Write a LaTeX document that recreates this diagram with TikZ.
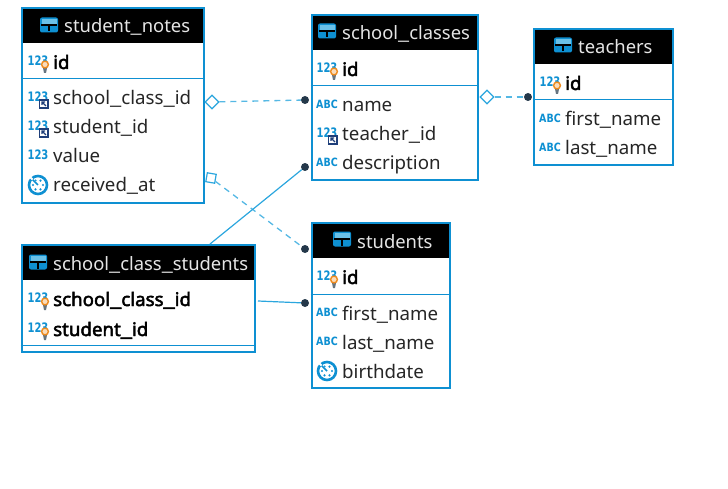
\documentclass[tikz,border=0pt]{standalone}
\usepackage{fontspec}
\setmainfont{Noto Sans}
\newfontfamily\keyfont{Noto Sans}[FakeBold=2.5]
\newfontfamily\iconfont{DejaVu Sans}
\usetikzlibrary{positioning, shapes.geometric}

\definecolor{tblblue}{HTML}{0E90D2}
\definecolor{relblue}{HTML}{2BA6DE}
\definecolor{dashblue}{HTML}{55B8E4}
\definecolor{dotdark}{HTML}{24384A}
\definecolor{bulbor}{HTML}{EE8A1C}
\definecolor{fkdark}{HTML}{1F3F7A}

\newcommand{\us}{\scalebox{1.35}[1]{\_}}

\tikzset{
    tbl/.style={draw=tblblue, line width=2.6pt, fill=white},
    head/.style={fill=black, inner sep=0pt},
    divider/.style={draw=tblblue, line width=1pt},
    title/.style={anchor=west, inner sep=0pt, text=white!90!black, font=\fontsize{18.4}{20}\selectfont, text height=16pt, text depth=2pt},
    field/.style={anchor=west, inner sep=0pt, text=black!85, font=\fontsize{18.7}{20}\selectfont, text height=16pt, text depth=2pt},
    keyfield/.style={field, text=black, font=\keyfont\fontsize{18.7}{20}\selectfont},
    rel/.style={draw=relblue, line width=1.2pt},
    reldash/.style={draw=dashblue, line width=1.3pt, dash pattern=on 6pt off 5pt},
    enddot/.style={circle, fill=dotdark, inner sep=0pt, minimum size=8pt},
    enddia/.style={diamond, draw=relblue, fill=white, line width=1.2pt, inner sep=0pt, minimum size=14pt},
    endsq/.style={rectangle, draw=relblue, fill=white, line width=1.2pt, inner sep=0pt, minimum size=9pt, rotate=-10},
    pics/tblicon/.style={code={
        \fill[tblblue, rounded corners=2pt] (-9,-7.5) rectangle (9,7.5);
        \fill[relblue!70!white] (-7.5,-6) rectangle (7.5,-1);
        \draw[black, line width=1.2pt] (-8,0) -- (8,0) (0,0) -- (0,6.5);
    }},
    pics/numicon/.style={code={
        \node[inner sep=0pt, text=tblblue, font=\iconfont\fontsize{10}{10}\selectfont\bfseries] at (0,-1.5) {\scalebox{1}[1.3]{123}};
    }},
    pics/abcicon/.style={code={
        \node[inner sep=0pt, text=tblblue, font=\iconfont\fontsize{9.5}{10}\selectfont\bfseries] at (0,-1) {\scalebox{1}[1.2]{ABC}};
    }},
    pics/bulb/.style={code={
        \fill[dotdark!70] (5,6) -- (9,6) -- (8,11) -- (6,11) -- cycle;
        \filldraw[draw=bulbor, fill=white!70!bulbor, line width=1.4pt] (7,2.5) circle (3.4);
    }},
    pics/fkmark/.style={code={
        \draw[fkdark, fill=white, line width=1.1pt] (1.5,2) rectangle (10,10);
        \draw[fkdark, line width=1.3pt] (8,8) -- (4,4) (4,7) -- (4,4) -- (7,4);
    }},
    pics/clock/.style={code={
        \draw[tblblue, line width=2.6pt] (0,0) circle (9);
        \foreach \a in {0,60,120,180,240,300}
            \fill[tblblue] (\a:5) circle (1.2);
        \draw[white, line width=1.8pt] (0,0) -- (-135:11);
        \draw[tblblue, line width=1.6pt] (0,0) -- (-135:7.5);
    }},
}

\begin{document}
\begin{tikzpicture}[x=1pt, y=-1pt]
    \useasboundingbox (0,0) rectangle (728,489);

    % Tables
    \node[tbl, minimum width=182pt, minimum height=195pt] (notes) at (113,105.5) {};
    \node[tbl, minimum width=166pt, minimum height=165pt] (classes) at (395,97.5) {};
    \node[tbl, minimum width=139pt, minimum height=136pt] (teachers) at (603.5,97) {};
    \node[tbl, minimum width=138pt, minimum height=165pt] (students) at (381,305.5) {};
    \node[tbl, minimum width=233pt, minimum height=107pt] (links) at (138.5,298.5) {};

    % Headers
    \node[head, minimum width=180pt, minimum height=34pt] (notes_head) at (113,26) {};
    \node[head, minimum width=164pt, minimum height=34pt] (classes_head) at (395,33) {};
    \node[head, minimum width=137pt, minimum height=34pt] (teachers_head) at (603.5,47) {};
    \node[head, minimum width=136pt, minimum height=34pt] (students_head) at (381,241) {};
    \node[head, minimum width=231pt, minimum height=34pt] (links_head) at (138.5,263) {};

    % Dividers
    \draw[divider] (notes.west |- 0,78.5) -- (notes.east |- 0,78.5);
    \draw[divider] (classes.west |- 0,85.5) -- (classes.east |- 0,85.5);
    \draw[divider] (teachers.west |- 0,99.5) -- (teachers.east |- 0,99.5);
    \draw[divider] (students.west |- 0,294.5) -- (students.east |- 0,294.5);
    \draw[divider] (links.west |- 0,345.5) -- (links.east |- 0,345.5);

    % Titles
    \node[title] (notes_title) at (64,26) {student\us notes};
    \node[title] (classes_title) at (342,33) {school\us classes};
    \node[title] (teachers_title) at (578,47) {teachers};
    \node[title] (students_title) at (357,241) {students};
    \node[title] (links_title) at (53,263) {school\us class\us students};
    \pic at (49,25) {tblicon};
    \pic at (327,31) {tblicon};
    \pic at (563,45) {tblicon};
    \pic at (342,239) {tblicon};
    \pic at (38,262) {tblicon};

    % Fields
    \node[keyfield] (n1) at (53,62) {id};
    \node[field] (n2) at (53,98) {school\us class\us id};
    \node[field] (n3) at (53,127) {student\us id};
    \node[field] (n4) at (53,156) {value};
    \node[field] (n5) at (53,185) {received\us at};

    \node[keyfield] (c1) at (342,69) {id};
    \node[field] (c2) at (342,105) {name};
    \node[field] (c3) at (342,134) {teacher\us id};
    \node[field] (c4) at (342,163) {description};

    \node[keyfield] (t1) at (565,83) {id};
    \node[field] (t2) at (565,119) {first\us name};
    \node[field] (t3) at (565,148) {last\us name};

    \node[keyfield] (s1) at (342,277) {id};
    \node[field] (s2) at (342,313) {first\us name};
    \node[field] (s3) at (342,342) {last\us name};
    \node[field] (s4) at (342,371) {birthdate};

    \node[keyfield] (l1) at (53,299) {school\us class\us id};
    \node[keyfield] (l2) at (53,329) {student\us id};

    % Icons
    \foreach \f in {n1,c1,t1,s1,l1,l2} {
        \pic at ([xshift=-15pt]\f.west) {numicon};
        \pic at ([xshift=-15pt]\f.west) {bulb};
    }
    \foreach \f in {n2,n3,c3} {
        \pic at ([xshift=-15pt]\f.west) {numicon};
        \pic at ([xshift=-15pt]\f.west) {fkmark};
    }
    \pic at ([xshift=-15pt]n4.west) {numicon};
    \foreach \f in {c2,c4,t2,t3,s2,s3} \pic at ([xshift=-15pt]\f.west) {abcicon};
    \pic at ([xshift=-15pt]n5.west) {clock};
    \pic at ([xshift=-15pt]s4.west) {clock};

    % Line ends
    \node[enddia] (notes_a) at (212,102) {};
    \node[enddot] (classes_a) at (305,100) {};
    \node[endsq] (notes_b) at (211,178) {};
    \node[enddot] (students_a) at (305,249) {};
    \node[enddia] (classes_b) at (487,97) {};
    \node[enddot] (teachers_a) at (528,97) {};
    \node[enddot] (classes_c) at (305,167) {};
    \node[enddot] (students_b) at (305,303) {};
    \coordinate (links_a) at (210,244);
    \coordinate (links_b) at (258,301);

    % Edges (Lines)
    \draw[reldash] (notes_a) -- (classes_a);
    \draw[reldash] (notes_b) -- (students_a);
    \draw[reldash] (classes_b) -- (teachers_a);
    \draw[rel] (links_a) -- (classes_c);
    \draw[rel] (links_b) -- (students_b);

\end{tikzpicture}
\end{document}
